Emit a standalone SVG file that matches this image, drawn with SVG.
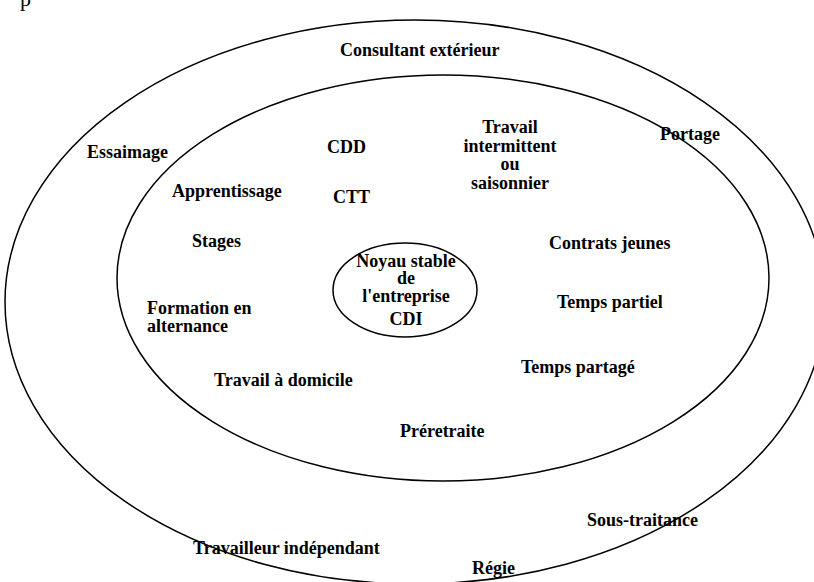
<svg xmlns="http://www.w3.org/2000/svg" width="814" height="582" viewBox="0 0 814 582">
<style>
.ring{fill:none;stroke:#000;stroke-width:1.5}
text{font-family:"Liberation Serif","Times New Roman",serif;font-weight:bold;font-size:18px;fill:#000}
.c{text-anchor:middle}
.frag{font-weight:normal;font-size:22px}
</style>
<rect width="814" height="582" fill="#fff"/>
<text class="frag" x="20" y="6">p</text>
<g id="outer-ring">
<ellipse class="ring" cx="415" cy="302" rx="410" ry="282"/>
<text x="340" y="56">Consultant extérieur</text>
<text x="87" y="158">Essaimage</text>
<text x="660" y="140">Portage</text>
<text x="587" y="526">Sous-traitance</text>
<text x="193" y="554">Travailleur indépendant</text>
<text x="472" y="574">Régie</text>
</g>
<g id="inner-ring">
<ellipse class="ring" cx="443" cy="278" rx="326" ry="203"/>
<text x="327" y="153">CDD</text>
<text class="c" x="510" y="133">Travail</text>
<text class="c" x="510" y="152">intermittent</text>
<text class="c" x="510" y="170">ou</text>
<text class="c" x="510" y="189">saisonnier</text>
<text x="172" y="197">Apprentissage</text>
<text x="333" y="203">CTT</text>
<text x="192" y="247">Stages</text>
<text x="549" y="249">Contrats jeunes</text>
<text x="147" y="314">Formation en</text>
<text x="147" y="332">alternance</text>
<text x="557" y="308">Temps partiel</text>
<text x="521" y="373">Temps partagé</text>
<text x="214" y="386">Travail à domicile</text>
<text x="400" y="437">Préretraite</text>
</g>
<g id="core">
<ellipse class="ring" cx="405" cy="290" rx="72" ry="47"/>
<text class="c" x="406" y="267">Noyau stable</text>
<text class="c" x="406" y="284">de</text>
<text class="c" x="406" y="302">l'entreprise</text>
<text class="c" x="406" y="325">CDI</text>
</g>
<g id="connectors"/>
</svg>
